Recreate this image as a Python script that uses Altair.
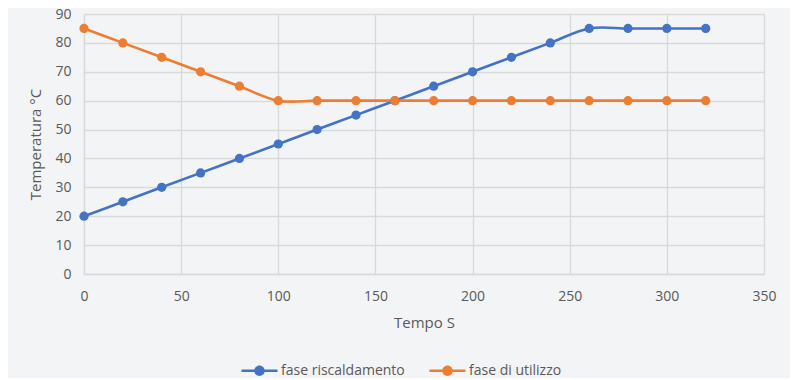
import altair as alt
import pandas as pd

tempo = [0, 20, 40, 60, 80, 100, 120, 140, 160, 180, 200, 220, 240, 260, 280, 300, 320]
riscaldamento = [20, 25, 30, 35, 40, 45, 50, 55, 60, 65, 70, 75, 80, 85, 85, 85, 85]
utilizzo = [85, 80, 75, 70, 65, 60, 60, 60, 60, 60, 60, 60, 60, 60, 60, 60, 60]
series = ["fase riscaldamento", "fase di utilizzo"]
colors = ["#4472C4", "#ED7D31"]

rows = []
for t, a, b in zip(tempo, riscaldamento, utilizzo):
    rows.append({"t": t, "v": a, "s": series[0]})
    rows.append({"t": t, "v": b, "s": series[1]})
df = pd.DataFrame(rows)

FONT = "Open Sans"
LBL = "#595959"
GRID = "#d9d9d9"

sym = "M-1,-0.075H1V0.075H-1Z M0.29,0A0.29,0.29,0,1,1,-0.29,0A0.29,0.29,0,1,1,0.29,0Z"

legend = alt.Legend(orient="none", direction="horizontal",
                    legendX=157, legendY=338, title=None,
                    symbolType=sym, symbolSize=1300,
                    symbolStrokeWidth=0, symbolOpacity=1,
                    labelFont=FONT, labelFontSize=14,
                    labelColor=LBL, columnPadding=24,
                    labelOffset=3, padding=0)

x = alt.X("t:Q", scale=alt.Scale(domain=[0, 350], nice=False),
          axis=alt.Axis(values=list(range(0, 351, 50)), title="Tempo S"))
y = alt.Y("v:Q", scale=alt.Scale(domain=[0, 90], nice=False),
          axis=alt.Axis(values=list(range(0, 91, 10)), title="Temperatura °C"))
color_scale = alt.Scale(domain=series, range=colors)
color = alt.Color("s:N", scale=color_scale, sort=series, legend=legend)

lines = alt.Chart(df).mark_line(strokeWidth=2.6, interpolate="catmull-rom").encode(
    x=x, y=y, color=color,
)
points = alt.Chart(df).mark_point(filled=True, size=85, opacity=1).encode(
    x=x, y=y, color=color,
)

chart = alt.layer(lines, points).properties(
    width=680, height=260,
    autosize=alt.AutoSizeParams(type="none"),
    padding={"left": 76, "top": 6, "right": 26, "bottom": 104},
    background="#f3f4f6",
).configure_view(stroke=None).configure_axis(
    gridColor=GRID, gridWidth=1.3, domainColor=GRID, domainWidth=1.3, ticks=False,
    labelFont=FONT, labelFontSize=14, labelColor=LBL, labelFlush=False,
    titleFont=FONT, titleFontSize=15, titleColor=LBL, titleFontWeight="normal",
).configure_axisX(labelPadding=15, titlePadding=12).configure_axisY(
    labelPadding=13, titlePadding=11)

chart.save("out.html", embed_options={"renderer": "svg", "actions": False})
